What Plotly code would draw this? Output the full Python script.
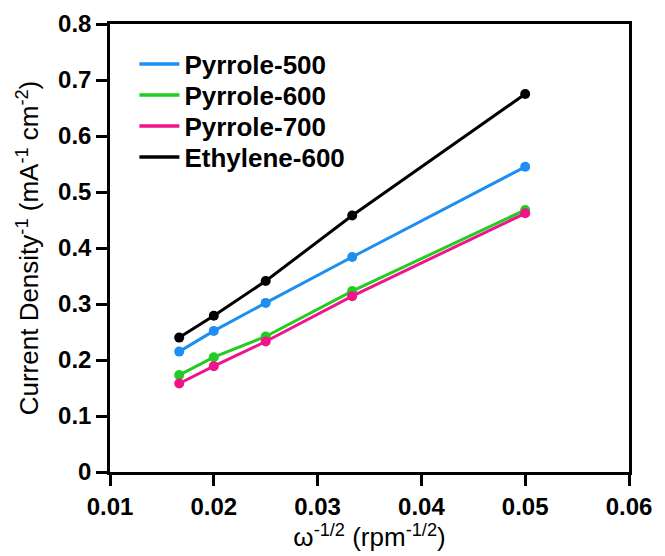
import plotly.graph_objects as go

omega_inv_sqrt = [1/60, 0.02, 0.025, 1/30, 0.05]
series_names = ["Pyrrole-500", "Pyrrole-600", "Pyrrole-700", "Ethylene-600"]
pyrrole_500 = [0.215, 0.252, 0.302, 0.384, 0.545]
pyrrole_600 = [0.173, 0.205, 0.242, 0.323, 0.468]
pyrrole_700 = [0.158, 0.189, 0.233, 0.314, 0.462]
ethylene_600 = [0.240, 0.279, 0.341, 0.458, 0.675]
colors = ["#1E8FF0", "#22CC22", "#F0148A", "#000000"]
x_ticks = [0.01, 0.02, 0.03, 0.04, 0.05, 0.06]
y_ticks = [0, 0.1, 0.2, 0.3, 0.4, 0.5, 0.6, 0.7, 0.8]

series = [pyrrole_500, pyrrole_600, pyrrole_700, ethylene_600]

fig = go.Figure()
for name, ys, c in zip(series_names, series, colors):
    fig.add_trace(go.Scatter(x=omega_inv_sqrt, y=ys, mode="lines+markers",
                             line=dict(color=c, width=3), marker=dict(color=c, size=10),
                             showlegend=False, name=name))

font_family = "Liberation Sans, Arial, sans-serif"
legend_ids = ["legend", "legend2", "legend3", "legend4"]
legend_rows_px = [64, 95, 126, 157]   # legend row centres (pixels from top)
plot_top, plot_bottom = 24, 472
for name, c, lid in zip(series_names, colors, legend_ids):
    fig.add_trace(go.Scatter(x=[None], y=[None], mode="lines", name=name, legend=lid,
                             line=dict(color=c, width=3.5)))

legend_layout = {}
for lid, ypx in zip(legend_ids, legend_rows_px):
    legend_layout[lid] = dict(
        x=0.047, y=(plot_bottom - ypx) / (plot_bottom - plot_top), xanchor="left", yanchor="middle",
        bgcolor="rgba(0,0,0,0)", borderwidth=0, itemwidth=40,
        font=dict(family=font_family, size=26, color="black", weight="bold"))

axis_common = dict(showline=True, linecolor="black", linewidth=2.5, mirror=True,
                   ticks="outside", ticklen=11, tickwidth=2.5, tickcolor="black",
                   showgrid=False, zeroline=False, automargin=False,
                   tickfont=dict(family=font_family, size=24, color="black", weight="bold"))

fig.update_layout(
    width=665, height=556,
    margin=dict(l=110, r=36, t=24, b=84),
    paper_bgcolor="white", plot_bgcolor="white",
    font=dict(family=font_family, color="black"),
    xaxis=dict(range=[0.01, 0.06], tickvals=x_ticks, ticktext=[f"{v:.2f}" for v in x_ticks],
               title=dict(text="ω<sup>-1/2</sup> (rpm<sup>-1/2</sup>)", font=dict(size=26, family=font_family), standoff=6),
               **axis_common),
    yaxis=dict(range=[0, 0.8], tickvals=y_ticks, ticktext=["0"] + [f"{v:.1f}" for v in y_ticks[1:]],
               title=dict(text="Current Density<sup>-1</sup> (mA<sup>-1</sup> cm<sup>-2</sup>)", font=dict(size=26, family=font_family), standoff=12),
               **axis_common),
    **legend_layout,
)

fig.write_html("out.html")
